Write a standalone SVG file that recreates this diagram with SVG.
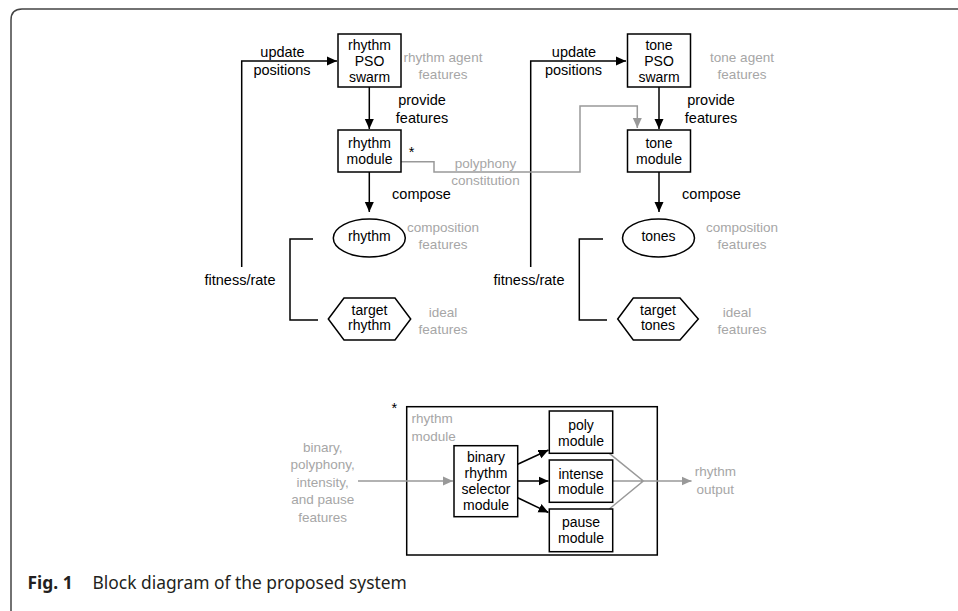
<svg xmlns="http://www.w3.org/2000/svg" width="958" height="611" viewBox="0 0 958 611">
<style>
.box{fill:#fff;stroke:#000;stroke-width:1.5}
.frame{fill:none;stroke:#000;stroke-width:1.5}
.bt{font-family:"Liberation Sans",Arial,sans-serif;font-size:14px;fill:#000;text-anchor:middle}
.lb{font-family:"Liberation Sans",Arial,sans-serif;font-size:14.5px;fill:#000}
.gt{font-family:"Liberation Sans",Arial,sans-serif;font-size:13.5px;fill:#a6a6a6}
.ln{fill:none;stroke:#000;stroke-width:1.5}
.gl{fill:none;stroke:#999;stroke-width:1.5}
.cap{font-family:"Noto Sans","Open Sans",sans-serif;font-size:17.4px;fill:#231f20}
</style>
<defs>
<marker id="ab" viewBox="0 0 10 10" refX="10" refY="5" markerWidth="10" markerHeight="10" markerUnits="userSpaceOnUse" orient="auto"><path d="M0,0.5 L10,5 L0,9.5 z" fill="#000"/></marker>
<marker id="ag" viewBox="0 0 10 10" refX="10" refY="5" markerWidth="10" markerHeight="10" markerUnits="userSpaceOnUse" orient="auto"><path d="M0,0.5 L10,5 L0,9.5 z" fill="#999"/></marker>
</defs>
<path d="M11,611 V20 Q11,9 22,9 H958" fill="none" stroke="#444" stroke-width="1.5"/>

<g id="rhythm-module-detail">
<rect class="frame" x="406.7" y="406.7" width="250.6" height="148.3"/>
<text class="lb" x="394.3" y="413" text-anchor="middle">*</text>
<text class="gt" x="411.5" y="423">rhythm</text>
<text class="gt" x="411.5" y="440.5">module</text>
</g>

<g id="connectors">
<path class="ln" d="M241.7,267 V61 H337" marker-end="url(#ab)"/>
<path class="ln" d="M369.3,87 V129" marker-end="url(#ab)"/>
<path class="ln" d="M369.3,172 V212" marker-end="url(#ab)"/>
<path class="ln" d="M313,239 H290 V320 H318"/>
<path class="ln" d="M530.7,267 V61 H626" marker-end="url(#ab)"/>
<path class="ln" d="M659,87 V129" marker-end="url(#ab)"/>
<path class="ln" d="M659,172 V212" marker-end="url(#ab)"/>
<path class="ln" d="M603,239 H579.3 V320 H607"/>
<path class="gl" d="M401,161.7 H434 V172 H580 V106 H637.3 V128" marker-end="url(#ag)"/>
<path class="gl" d="M358,481 H453" marker-end="url(#ag)"/>
<path class="ln" d="M517.7,464.3 L548.5,450" marker-end="url(#ab)"/>
<path class="ln" d="M517.7,481 H548.5" marker-end="url(#ab)"/>
<path class="ln" d="M517.7,497.7 L548.5,512.5" marker-end="url(#ab)"/>
<path class="gl" d="M609.3,453.3 L643.3,481 L609.3,509 M612.7,481 H643.3"/>
<path class="gl" d="M643.3,481 H691.5" marker-end="url(#ag)"/>
</g>

<g id="rhythm-pso">
<rect class="box" x="338" y="34" width="63" height="53"/>
<text class="bt" x="369.5" y="50">rhythm</text>
<text class="bt" x="369.5" y="66">PSO</text>
<text class="bt" x="369.5" y="82">swarm</text>
</g>
<g id="rhythm-module">
<rect class="box" x="338" y="130" width="63" height="42"/>
<text class="bt" x="369.5" y="148">rhythm</text>
<text class="bt" x="369.5" y="164">module</text>
</g>
<g id="rhythm-ellipse">
<ellipse class="box" cx="369.3" cy="238" rx="36" ry="19"/>
<text class="bt" x="369.3" y="241">rhythm</text>
</g>
<g id="target-rhythm">
<polygon class="box" points="328.3,319 344,298 395,298 410.7,319 395,340 344,340"/>
<text class="bt" x="369.5" y="315">target</text>
<text class="bt" x="369.5" y="330">rhythm</text>
</g>

<g id="tone-pso">
<rect class="box" x="627.5" y="34" width="63" height="53"/>
<text class="bt" x="659" y="50">tone</text>
<text class="bt" x="659" y="66">PSO</text>
<text class="bt" x="659" y="82">swarm</text>
</g>
<g id="tone-module">
<rect class="box" x="627.5" y="130" width="63" height="42"/>
<text class="bt" x="659" y="148">tone</text>
<text class="bt" x="659" y="164">module</text>
</g>
<g id="tones-ellipse">
<ellipse class="box" cx="658.5" cy="238" rx="36" ry="19"/>
<text class="bt" x="658.5" y="241">tones</text>
</g>
<g id="target-tones">
<polygon class="box" points="617.7,319 633.3,298 680,298 698.3,319 680,340 633.3,340"/>
<text class="bt" x="658" y="315">target</text>
<text class="bt" x="658" y="330">tones</text>
</g>

<g id="labels">
<text class="lb" x="282.5" y="57" text-anchor="middle">update</text>
<text class="lb" x="282" y="75" text-anchor="middle">positions</text>
<text class="lb" x="422" y="105" text-anchor="middle">provide</text>
<text class="lb" x="422" y="122.5" text-anchor="middle">features</text>
<text class="lb" x="421.5" y="198.5" text-anchor="middle">compose</text>
<text class="lb" x="240" y="284.5" text-anchor="middle">fitness/rate</text>
<text class="lb" x="411.7" y="157" text-anchor="middle">*</text>
<text class="lb" x="574" y="57" text-anchor="middle">update</text>
<text class="lb" x="573.5" y="75" text-anchor="middle">positions</text>
<text class="lb" x="711" y="105" text-anchor="middle">provide</text>
<text class="lb" x="711" y="122.5" text-anchor="middle">features</text>
<text class="lb" x="711.5" y="198.5" text-anchor="middle">compose</text>
<text class="lb" x="529" y="284.5" text-anchor="middle">fitness/rate</text>
<text class="gt" x="443" y="62" text-anchor="middle">rhythm agent</text>
<text class="gt" x="443" y="78.5" text-anchor="middle">features</text>
<text class="gt" x="742" y="62" text-anchor="middle">tone agent</text>
<text class="gt" x="742" y="78.5" text-anchor="middle">features</text>
<text class="gt" x="485.5" y="168" text-anchor="middle">polyphony</text>
<text class="gt" x="485.5" y="185" text-anchor="middle">constitution</text>
<text class="gt" x="443" y="232" text-anchor="middle">composition</text>
<text class="gt" x="443" y="249" text-anchor="middle">features</text>
<text class="gt" x="742" y="232" text-anchor="middle">composition</text>
<text class="gt" x="742" y="249" text-anchor="middle">features</text>
<text class="gt" x="443" y="317" text-anchor="middle">ideal</text>
<text class="gt" x="443" y="334" text-anchor="middle">features</text>
<text class="gt" x="737" y="317" text-anchor="middle">ideal</text>
<text class="gt" x="742" y="334" text-anchor="middle">features</text>
</g>

<g id="binary-selector">
<rect class="box" x="454" y="445.7" width="63.7" height="71"/>
<text class="bt" x="486" y="461.5">binary</text>
<text class="bt" x="486" y="477.5">rhythm</text>
<text class="bt" x="486" y="493.5">selector</text>
<text class="bt" x="486" y="509.5">module</text>
</g>
<g id="poly-module">
<rect class="box" x="549.3" y="411" width="63.4" height="42.3"/>
<text class="bt" x="581" y="430">poly</text>
<text class="bt" x="581" y="445.5">module</text>
</g>
<g id="intense-module">
<rect class="box" x="549.3" y="460" width="63.4" height="42.3"/>
<text class="bt" x="581" y="478.5">intense</text>
<text class="bt" x="581" y="494">module</text>
</g>
<g id="pause-module">
<rect class="box" x="549.3" y="509" width="63.4" height="42.7"/>
<text class="bt" x="581" y="527">pause</text>
<text class="bt" x="581" y="542.5">module</text>
</g>
<g id="input-label">
<text class="gt" x="322.7" y="452" text-anchor="middle">binary,</text>
<text class="gt" x="322.7" y="469.4" text-anchor="middle">polyphony,</text>
<text class="gt" x="322.7" y="486.8" text-anchor="middle">intensity,</text>
<text class="gt" x="322.7" y="504.2" text-anchor="middle">and pause</text>
<text class="gt" x="322.7" y="521.6" text-anchor="middle">features</text>
</g>
<g id="output-label">
<text class="gt" x="715.3" y="476" text-anchor="middle">rhythm</text>
<text class="gt" x="715.3" y="494" text-anchor="middle">output</text>
</g>

<text class="cap" x="27.5" y="589"><tspan font-weight="bold">Fig. 1</tspan><tspan x="92.5">Block diagram of the proposed system</tspan></text>
</svg>
